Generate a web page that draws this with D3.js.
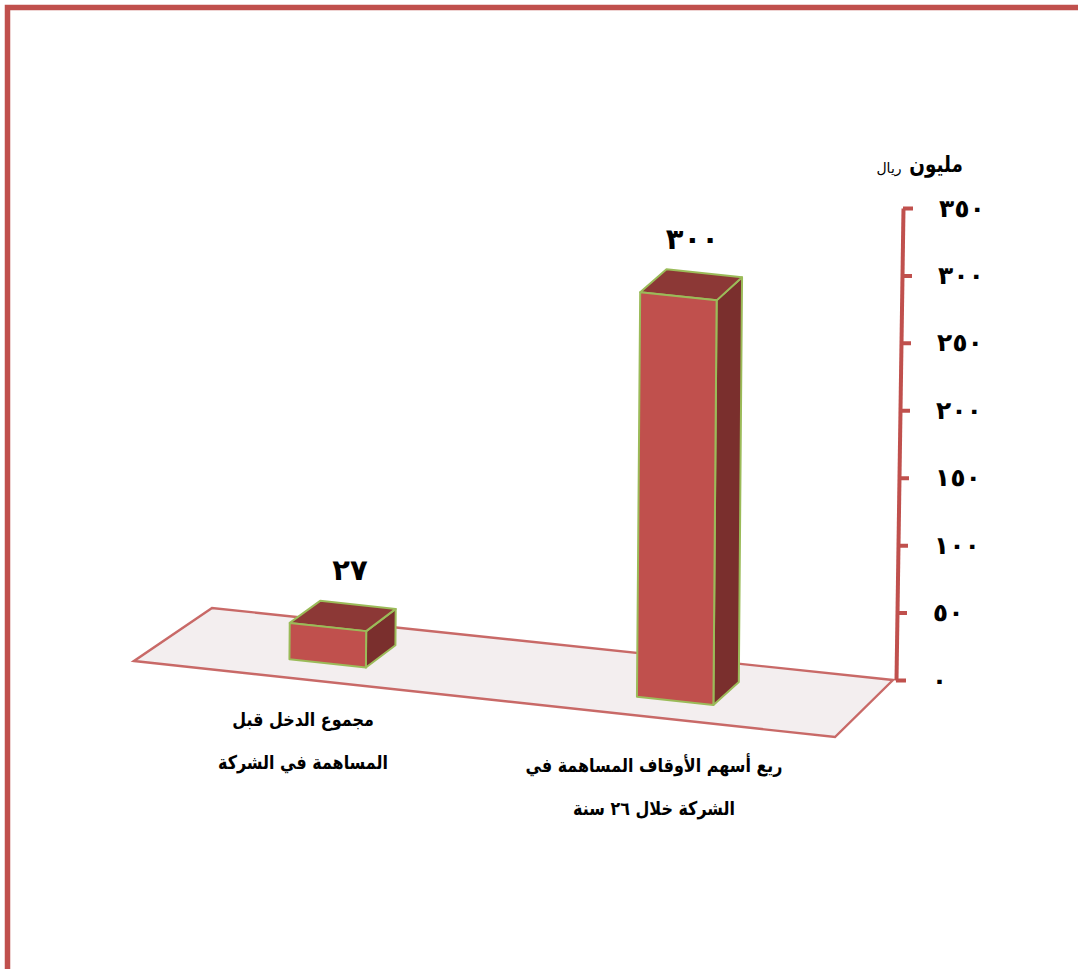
<!DOCTYPE html>
<html lang="ar">
<head>
<meta charset="utf-8">
<script src="https://cdn.jsdelivr.net/npm/d3@7"></script>
<style>
html, body { margin: 0; padding: 0; background: #fff; }
svg { display: block; }
text { font-family: "DejaVu Sans", "Noto Sans", sans-serif; fill: #000; }
</style>
</head>
<body>
<svg id="chart" width="1078" height="969"></svg>
<script>
const categories = ["income", "endowment"];
const values = [27, 300];
const valueLabels = ["٢٧", "٣٠٠"];
const categoryLines = [
    ["مجموع الدخل قبل", "المساهمة في الشركة"],
    ["ريع أسهم الأوقاف المساهمة في", "الشركة خلال ٢٦ سنة"]
];
const tickValues = [0, 50, 100, 150, 200, 250, 300, 350];
const tickLabels = ["٠", "٥٠", "١٠٠", "١٥٠", "٢٠٠", "٢٥٠", "٣٠٠", "٣٥٠"];

const red = "#c0504d";
const svg = d3.select("#chart");

// outer frame, only top and left show in the picture
svg.append("path")
    .attr("d", "M7.5,969V7.5H1078")
    .attr("fill", "none")
    .attr("stroke", red)
    .attr("stroke-width", 5.5);

// floor corners: front left, front right, back right, back left
const A = [134, 661], B = [835, 737], C = [893, 680], D = [212, 608];

function floorPoint(u, v) {
    const fx = A[0] + u * (B[0] - A[0]), fy = A[1] + u * (B[1] - A[1]);
    const bx = D[0] + u * (C[0] - D[0]), by = D[1] + u * (C[1] - D[1]);
    return [fx + v * (bx - fx), fy + v * (by - fy)];
}

svg.append("polygon")
    .attr("points", [A, B, C, D].join(" "))
    .attr("fill", "#f3eeef")
    .attr("stroke", red)
    .attr("stroke-opacity", 0.85)
    .attr("stroke-width", 2.4);

const height = d3.scaleLinear().domain([0, 350]).range([0, 472]);
const band = d3.scaleBand().domain(categories).range([-0.005, 0.995])
    .paddingInner(0.78).paddingOuter(0.39);

const lean = 0.008;
const depth0 = 0.3, depth1 = 0.71;

function lift(p, h) {
    return [p[0] + h * lean, p[1] - h];
}

// the two digit label sits a bit right of its box
const labelShift = d3.scaleOrdinal().domain(categories).range([7, 1]);

const bars = svg.selectAll("g.bar")
    .data(categories)
    .enter()
    .append("g")
    .attr("class", "bar")
    .each(function (c, i) {
        const u0 = band(c), u1 = u0 + band.bandwidth();
        const h = height(values[i]);
        const fl = floorPoint(u0, depth0), fr = floorPoint(u1, depth0);
        const br = floorPoint(u1, depth1), bl = floorPoint(u0, depth1);
        const faces = [
            {fill: "#7a2f2d", pts: [fr, br, lift(br, h), lift(fr, h)]},
            {fill: "#8c3836", pts: [lift(fl, h), lift(fr, h), lift(br, h), lift(bl, h)]},
            {fill: red, pts: [fl, fr, lift(fr, h), lift(fl, h)]}
        ];
        d3.select(this).selectAll("polygon")
            .data(faces)
            .enter()
            .append("polygon")
            .attr("points", d => d.pts.join(" "))
            .attr("fill", d => d.fill)
            .attr("stroke", "#9bbb59")
            .attr("stroke-width", 2)
            .attr("stroke-linejoin", "round");

        const top = lift(floorPoint((u0 + u1) / 2, (depth0 + depth1) / 2), h);
        d3.select(this).append("text")
            .attr("x", top[0] + labelShift(c))
            .attr("y", top[1] - 36)
            .attr("text-anchor", "middle")
            .attr("direction", "ltr")
            .attr("letter-spacing", 9)
            .attr("font-size", 29)
            .attr("font-weight", "bold")
            .text(valueLabels[i]);
    });

// category labels below the floor, squeezed since the fallback font runs wide
const labelX = d3.scaleOrdinal().domain(categories).range([303, 654]);
const labelY = d3.scaleOrdinal().domain(categories).range([726, 772]);
svg.selectAll("text.cat")
    .data(categories)
    .enter()
    .append("text")
    .attr("class", "cat")
    .attr("text-anchor", "middle")
    .attr("direction", "rtl")
    .attr("font-size", 19)
    .attr("font-weight", "bold")
    .attr("transform", c => `translate(${labelX(c)},0) scale(0.84,1)`)
    .each(function (c, i) {
        d3.select(this).selectAll("tspan")
            .data(categoryLines[i])
            .enter()
            .append("tspan")
            .attr("x", 0)
            .attr("y", (d, j) => labelY(c) + j * 43)
            .text(d => d);
    });

// value axis, leaning a little like the box walls
const axisY = d3.scaleLinear().domain([0, 350]).range([0, -472]);
const axis = d3.axisRight(axisY)
    .tickValues(tickValues)
    .tickFormat((d, i) => tickLabels[i])
    .tickSize(10)
    .tickSizeOuter(0)
    .tickPadding(26);

const axisG = svg.append("g")
    .attr("transform", "translate(896,680) skewX(-0.85)")
    .call(axis);
axisG.select(".domain").attr("stroke", red).attr("stroke-width", 4);
axisG.selectAll(".tick line").attr("stroke", red).attr("stroke-width", 4);
axisG.selectAll(".tick text")
    .attr("font-family", null)
    .attr("font-size", 25)
    .attr("font-weight", "bold")
    .attr("letter-spacing", 6)
    .attr("direction", "ltr")
    .attr("text-anchor", "start");

// axis unit
svg.append("text")
    .attr("transform", "translate(936,172) scale(0.8,1)")
    .attr("text-anchor", "middle")
    .attr("direction", "rtl")
    .attr("font-size", 23)
    .attr("font-weight", "bold")
    .text("مليون");
svg.append("text")
    .attr("x", 889).attr("y", 173)
    .attr("text-anchor", "middle")
    .attr("direction", "rtl")
    .attr("font-size", 14)
    .text("ريال");
</script>
</body>
</html>
